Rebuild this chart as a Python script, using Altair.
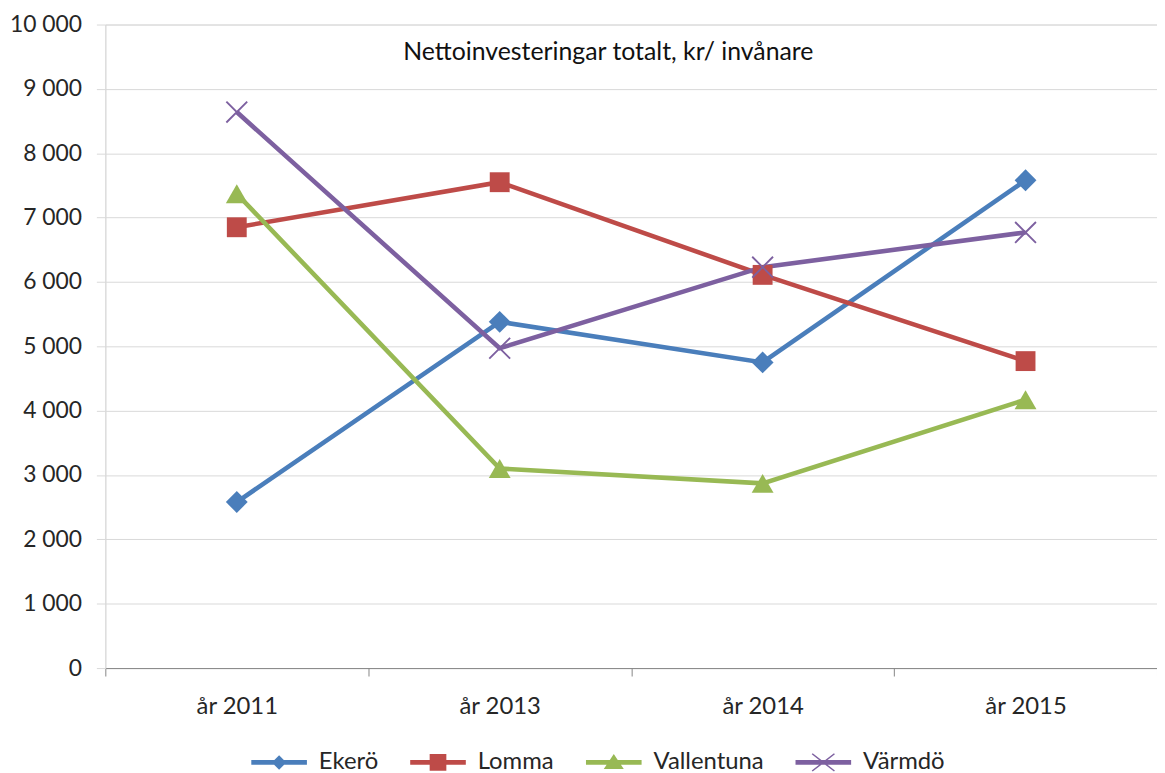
import altair as alt
import pandas as pd

# ---- data ----
years = ["år 2011", "år 2013", "år 2014", "år 2015"]
series = ["Ekerö", "Lomma", "Vallentuna", "Värmdö"]
ekero = [2580, 5380, 4750, 7580]
lomma = [6850, 7550, 6110, 4770]
vallentuna = [7370, 3100, 2870, 4170]
varmdo = [8640, 4970, 6230, 6770]
y_ticks = [0, 1000, 2000, 3000, 4000, 5000, 6000, 7000, 8000, 9000, 10000]
title_text = "Nettoinvesteringar totalt, kr/ invånare"

# ---- styles ----
colors = ["#4A7EBB", "#BE4B48", "#98B954", "#7D60A0"]
FONT = "Lato"
TEXT = "#262626"

x_mark = ("M-0.936,-1.064L1.064,0.936L0.936,1.064L-1.064,-0.936Z"
          "M1.064,-0.936L-0.936,1.064L-1.064,0.936L0.936,-1.064Z")
plot_shapes = ["diamond", "square", "triangle-up", x_mark]
plot_sizes = [484, 400, 484, 440]

bar = "M-1,-0.084L1,-0.084L1,0.084L-1,0.084Z"
legend_shapes = [
    bar + "M0,-0.26L0.26,0L0,0.26L-0.26,0Z",
    bar + "M-0.3,-0.3L0.3,-0.3L0.3,0.3L-0.3,0.3Z",
    bar + "M0,-0.3L0.36,0.24L-0.36,0.24Z",
    bar + "M-0.383,-0.331L0.417,0.289L0.383,0.331L-0.417,-0.289Z"
          "M0.417,-0.289L-0.383,0.331L-0.417,0.289L0.383,-0.331Z",
]

rows = []
for name, vals in zip(series, [ekero, lomma, vallentuna, varmdo]):
    for yr, v in zip(years, vals):
        rows.append({"År": yr, "Kommun": name, "Värde": v})
df = pd.DataFrame(rows)

base = alt.Chart(df)

x_enc = alt.X(
    "År:N", sort=years,
    scale=alt.Scale(type="band", paddingInner=0, paddingOuter=0),
    axis=alt.Axis(title=None, tickBand="extent", labelAngle=0, grid=False,
                  domainColor="#868686", tickColor="#868686", tickSize=8,
                  labelFont=FONT, labelFontSize=24, labelColor=TEXT,
                  labelPadding=19),
)
y_enc = alt.Y(
    "Värde:Q",
    scale=alt.Scale(domain=[0, 10000], nice=False),
    axis=alt.Axis(title=None, values=y_ticks,
                  labelExpr="replace(format(datum.value, ','), ',', ' ')",
                  gridColor="#D9D9D9", domainColor="#D9D9D9", tickColor="#D9D9D9",
                  tickSize=9, labelPadding=15,
                  labelFont=FONT, labelFontSize=23, labelColor=TEXT),
)
color_scale = alt.Scale(domain=series, range=colors)

legend = alt.Legend(
    title=None, orient="none", legendX=147, legendY=715, direction="horizontal",
    symbolSize=3136, symbolStrokeWidth=0, symbolOpacity=1,
    labelFont=FONT, labelFontSize=24, labelColor=TEXT, labelOffset=12,
    columnPadding=32, padding=0, labelLimit=300,
)

# invisible layer that only carries the legend (placed first so its legend wins)
legend_layer = base.mark_point(filled=True, opacity=0).encode(
    x=x_enc, y=y_enc,
    color=alt.Color("Kommun:N", scale=color_scale, legend=legend),
    shape=alt.Shape("Kommun:N", scale=alt.Scale(domain=series, range=legend_shapes),
                    legend=legend),
)

lines = base.mark_line(strokeWidth=4.6).encode(
    x=x_enc, y=y_enc,
    color=alt.Color("Kommun:N", scale=color_scale, legend=None),
)

layers = [legend_layer, lines]
for name, shp, sz in zip(series, plot_shapes, plot_sizes):
    layers.append(
        base.transform_filter(alt.datum.Kommun == name)
        .mark_point(filled=True, opacity=1, shape=shp, size=sz)
        .encode(x=x_enc, y=y_enc,
                color=alt.Color("Kommun:N", scale=color_scale, legend=None))
    )

chart = alt.layer(*layers).properties(
    width=1059, height=648,
    autosize=alt.AutoSizeParams(type="none"),
    padding={"left": 98, "top": 14, "right": 0, "bottom": 103},
    title=alt.TitleParams(title_text, font=FONT, fontSize=25, fontWeight="normal",
                          color="#111111", anchor="middle", dx=-23, offset=-52),
).configure_view(stroke=None).configure(background="white")

chart.save("out.html", embed_options={"renderer": "svg", "actions": False})
